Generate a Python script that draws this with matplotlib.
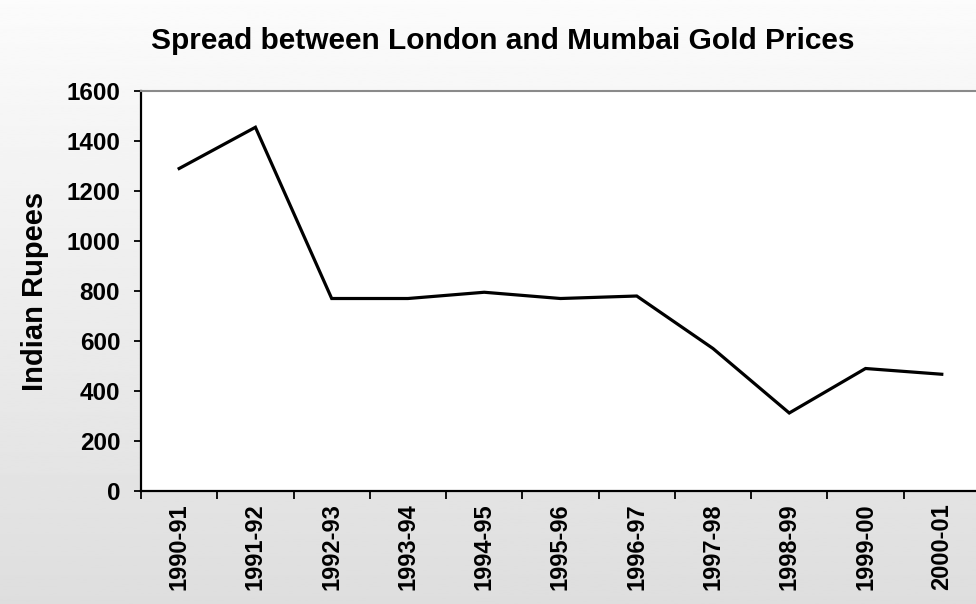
import numpy as np
import matplotlib
matplotlib.use("Agg")
import matplotlib.pyplot as plt

# Spread between London and Mumbai gold prices (Rs.)
years = ["1990-91", "1991-92", "1992-93", "1993-94", "1994-95", "1995-96",
         "1996-97", "1997-98", "1998-99", "1999-00", "2000-01"]
spread = [1290, 1455, 770, 770, 795, 770, 780, 570, 312, 490, 467]
yticks = [0, 200, 400, 600, 800, 1000, 1200, 1400, 1600]

plt.rcParams['font.family'] = ['Liberation Sans', 'DejaVu Sans']
plt.rcParams['font.weight'] = 'bold'

fig = plt.figure(figsize=(9.76, 6.04), dpi=100)

# grey gradient behind everything
bg = fig.add_axes([0, 0, 1, 1], zorder=-1)
grad = np.linspace(0.985, 0.87, 256).reshape(-1, 1)
bg.imshow(grad, aspect="auto", cmap="gray", vmin=0, vmax=1, extent=[0, 1, 0, 1])
bg.axis("off")

ax = fig.add_axes([0.1445, 0.1871, 0.8595, 0.6622])
ax.set_facecolor("white")
x = np.arange(len(years))
ax.plot(x, spread, color="black", lw=2.3, solid_joinstyle="miter")

ax.set_xlim(-0.5, len(years) - 0.5)
ax.set_ylim(0, 1600)
ax.set_yticks(yticks)
ax.set_yticklabels([str(v) for v in yticks], fontsize=17.5, fontweight="bold")
ax.set_xticks(x)
ax.set_xticklabels(years, rotation=90, fontsize=17, fontweight="bold")
ax.set_xticks(np.arange(len(years) + 1) - 0.5, minor=True)
ax.tick_params(axis="x", which="major", length=0, pad=9)
ax.tick_params(axis="x", which="minor", length=6, width=1.3, direction="out", color="black")
ax.tick_params(axis="y", length=5, width=1.3, direction="out", pad=10)

for s in ["left", "bottom"]:
    ax.spines[s].set_color("black")
    ax.spines[s].set_linewidth(1.6)
ax.spines["top"].set_color("#8a8a8a")
ax.spines["top"].set_linewidth(1.5)
ax.spines["right"].set_visible(False)

ax.set_ylabel("Indian Rupees", fontsize=21, fontweight="bold")
ax.yaxis.set_label_coords(-0.110, 0.5)
fig.text(0.515, 0.932, "Spread between London and Mumbai Gold Prices",
         ha="center", va="center", fontsize=21.5, fontweight="bold")

fig.savefig("out.png", dpi=100)
